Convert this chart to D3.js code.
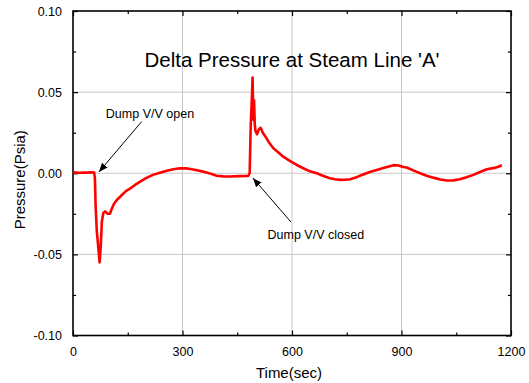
<!DOCTYPE html>
<html>
<head>
<meta charset="utf-8">
<script src="https://cdn.jsdelivr.net/npm/d3@7"></script>
<style>
  body { margin: 0; background: #fff; }
  text { font-family: "Liberation Sans", Arial, sans-serif; fill: #000; }
</style>
</head>
<body>
<svg id="chart" width="529" height="383"></svg>
<script>
// time (sec) and delta pressure (psia)
const time = [0, 10, 20, 30, 40, 50, 58, 60, 62, 65, 69, 73, 76, 79, 83, 88, 95, 101, 106, 112, 120,
  134, 145, 156, 170, 184, 200, 219, 238, 257, 275, 293, 310, 321, 340, 357, 375, 394, 412, 430, 455,
  476, 480, 484, 487, 490, 492, 494, 496, 498, 500, 504, 509, 514, 520, 526, 537, 549, 562, 576, 595,
  613, 631, 649, 668, 686, 704, 718, 732, 745, 759, 777, 795, 813, 832, 855, 878, 892, 905, 914, 932,
  951, 969, 987, 1006, 1024, 1042, 1060, 1078, 1097, 1115, 1134, 1155, 1165, 1175];
const pressure = [0.0006, 0.0004, 0.0003, 0.0005, 0.0004, 0.0006, 0.0004, -0.003, -0.02, -0.035, -0.045,
  -0.055, -0.045, -0.03, -0.0245, -0.0235, -0.025, -0.025, -0.022, -0.019, -0.0165,
  -0.0134, -0.011, -0.0095, -0.0072, -0.0052, -0.003, -0.001, 0.0003, 0.0016, 0.0025, 0.0031, 0.003,
  0.0026, 0.0018, 0.001, -0.0002, -0.0015, -0.0019, -0.002, -0.0018,
  -0.0017, -0.0017, 0.0, 0.03, 0.046, 0.059, 0.033, 0.045, 0.03, 0.026, 0.024, 0.027, 0.028, 0.025,
  0.023, 0.019, 0.0154, 0.013, 0.0102, 0.0075,
  0.0051, 0.0031, 0.0012, 0.0, -0.0017, -0.0031, -0.0037, -0.0041, -0.004, -0.0037, -0.0024, -0.0008,
  0.0008, 0.002, 0.0035, 0.005, 0.0048, 0.0038, 0.0035, 0.0018,
  0.0, -0.0015, -0.0027, -0.0038, -0.0045, -0.0044, -0.0037, -0.0025, -0.001, 0.0008, 0.0025, 0.0033,
  0.004, 0.0049];

const xTicks = [0, 300, 600, 900, 1200];
const xMinor = [150, 450, 750, 1050];
const yTicks = [-0.10, -0.05, 0.00, 0.05, 0.10];
const yMinor = [-0.075, -0.025, 0.025, 0.075];

const annotations = [
  { label: "Dump V/V open", tx: 90, ty: 0.034, from: [188, 0.0318], to: [71, 0.0008] },
  { label: "Dump V/V closed", tx: 533, ty: -0.0405, from: [597, -0.030], to: [493, -0.003] }
];

const svg = d3.select("#chart");
const x = d3.scaleLinear().domain([0, 1200]).range([73, 511]);
const y = d3.scaleLinear().domain([-0.1, 0.1]).range([335.5, 11]);

// grid
svg.append("g").selectAll("line").data([300, 600, 900]).join("line")
  .attr("x1", d => x(d)).attr("x2", d => x(d))
  .attr("y1", y(0.1)).attr("y2", y(-0.1))
  .attr("stroke", "#c8c8c8").attr("stroke-width", 1);
svg.append("g").selectAll("line").data([-0.05, 0, 0.05]).join("line")
  .attr("x1", x(0)).attr("x2", x(1200))
  .attr("y1", d => y(d)).attr("y2", d => y(d))
  .attr("stroke", "#c8c8c8").attr("stroke-width", 1);

// axes, ticks inward
const fmtY = d => d.toFixed(2);   // plain hyphen minus like the original
const fmtX = d => String(d);
svg.append("g").attr("transform", `translate(0,${y(-0.1)})`)
  .call(d3.axisBottom(x).tickValues(xTicks).tickFormat(fmtX).tickSizeInner(-5).tickSizeOuter(0).tickPadding(12));
svg.append("g").attr("transform", `translate(${x(0)},0)`)
  .call(d3.axisLeft(y).tickValues(yTicks).tickFormat(fmtY).tickSizeInner(-5).tickSizeOuter(0).tickPadding(11));
svg.append("g").attr("transform", `translate(0,${y(0.1)})`)
  .call(d3.axisTop(x).tickValues(xTicks).tickFormat("").tickSizeInner(-5).tickSizeOuter(0));
svg.append("g").attr("transform", `translate(${x(1200)},0)`)
  .call(d3.axisRight(y).tickValues(yTicks).tickFormat("").tickSizeInner(-5).tickSizeOuter(0));

svg.append("g").attr("transform", `translate(0,${y(-0.1)})`)
  .call(d3.axisBottom(x).tickValues(xMinor).tickFormat("").tickSizeInner(-3).tickSizeOuter(0));
svg.append("g").attr("transform", `translate(0,${y(0.1)})`)
  .call(d3.axisTop(x).tickValues(xMinor).tickFormat("").tickSizeInner(-3).tickSizeOuter(0));
svg.append("g").attr("transform", `translate(${x(0)},0)`)
  .call(d3.axisLeft(y).tickValues(yMinor).tickFormat("").tickSizeInner(-3).tickSizeOuter(0));
svg.append("g").attr("transform", `translate(${x(1200)},0)`)
  .call(d3.axisRight(y).tickValues(yMinor).tickFormat("").tickSizeInner(-3).tickSizeOuter(0));

svg.selectAll(".domain").remove();
svg.selectAll(".tick line").attr("stroke", "#000").attr("stroke-width", 1.2);
svg.selectAll(".tick text").attr("font-size", 12.5).attr("font-family", "Liberation Sans, Arial, sans-serif");

// frame
svg.append("rect")
  .attr("x", x(0)).attr("y", y(0.1))
  .attr("width", x(1200) - x(0)).attr("height", y(-0.1) - y(0.1))
  .attr("fill", "none").attr("stroke", "#000").attr("stroke-width", 1.6);

// series
const pts = time.map((t, i) => [t, pressure[i]]);
svg.append("path").datum(pts)
  .attr("fill", "none").attr("stroke", "#ff0000").attr("stroke-width", 2.6)
  .attr("stroke-linejoin", "round")
  .attr("d", d3.line().x(d => x(d[0])).y(d => y(d[1])));

// title and axis labels
svg.append("text").attr("x", 292).attr("y", 67).attr("text-anchor", "middle")
  .attr("font-size", 20.5).text("Delta Pressure at Steam Line 'A'");
svg.append("text").attr("x", 289).attr("y", 378).attr("text-anchor", "middle")
  .attr("font-size", 15).text("Time(sec)");
svg.append("text").attr("transform", `translate(25,${y(-0.004)}) rotate(-90)`).attr("text-anchor", "middle")
  .attr("font-size", 15).text("Pressure(Psia)");

// annotations with arrows
svg.append("defs").append("marker")
  .attr("id", "arrow").attr("viewBox", "0 -5 10 10")
  .attr("refX", 10).attr("refY", 0)
  .attr("markerWidth", 9).attr("markerHeight", 9)
  .attr("markerUnits", "userSpaceOnUse")
  .attr("orient", "auto")
  .append("path").attr("fill", "#000").attr("d", "M0,-4L10,0L0,4Z");

const ann = svg.append("g");
ann.selectAll("line").data(annotations).join("line")
  .attr("x1", d => x(d.from[0])).attr("y1", d => y(d.from[1]))
  .attr("x2", d => x(d.to[0])).attr("y2", d => y(d.to[1]))
  .attr("stroke", "#000").attr("stroke-width", 1)
  .attr("marker-end", "url(#arrow)");
ann.selectAll("text").data(annotations).join("text")
  .attr("x", d => x(d.tx)).attr("y", d => y(d.ty))
  .attr("font-size", 12.5).text(d => d.label);
</script>
</body>
</html>
